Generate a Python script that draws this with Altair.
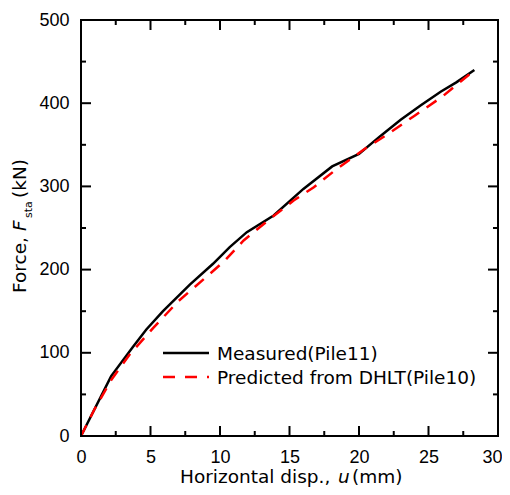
import altair as alt
import pandas as pd

# ---------------- data ----------------
u_meas = [0, 2.17, 3.73, 4.7, 5.9, 7.83, 9.5, 10.7, 11.93, 13.86, 16.0, 18.07, 20.0, 21.57, 23.0, 24.4, 25.9, 27.0, 28.3]
F_meas = [0, 72, 107, 128, 150, 182, 207, 227, 245, 265, 297, 324, 339, 361, 380, 397, 414, 425, 440]

u_pred = [0, 1.0, 2.2, 3.5, 5.2, 7.0, 9.0, 10.3, 11.7, 13.6, 15.3, 16.75, 18.4, 20.4, 22.0, 24.0, 26.0, 28.4]
F_pred = [0, 33, 68, 98, 130, 162, 191, 210, 235, 261, 283, 299, 321, 345, 362, 385, 408, 441]

series = ["Measured(Pile11)", "Predicted from DHLT(Pile10)"]
x_major = [0, 5, 10, 15, 20, 25, 30]
x_minor = [2.5, 7.5, 12.5, 17.5, 22.5, 27.5]
y_major = [0, 100, 200, 300, 400, 500]
y_minor = [50, 150, 250, 350, 450]

W, H = 417, 416
TICKFONT = "Liberation Sans"
FONT = "DejaVu Sans"

df = pd.concat([
    pd.DataFrame({"u": u_meas, "F": F_meas, "s": series[0], "o": range(len(u_meas))}),
    pd.DataFrame({"u": u_pred, "F": F_pred, "s": series[1], "o": range(len(u_pred))}),
])

xs = alt.Scale(domain=[0, 30], nice=False, zero=False)
ys = alt.Scale(domain=[0, 500], nice=False, zero=False)

x_ax = alt.Axis(values=x_major, title=None, ticks=False, tickSize=0, domain=False, grid=False,
                labelFont=TICKFONT, labelFontSize=18, labelColor="black", labelPadding=12,
                labelFlush=False,
                labelAlign=alt.expr("datum.value == 30 ? 'right' : 'center'"),
                labelOffset=alt.expr("datum.value == 30 ? 4 : 0"))
y_ax = alt.Axis(values=y_major, title=None, ticks=False, tickSize=0, domain=False, grid=False,
                labelFont=TICKFONT, labelFontSize=18, labelColor="black", labelPadding=12)

meas = alt.Chart(df[df.s == series[0]]).mark_line(color="black", strokeWidth=2.5).encode(
    x=alt.X("u:Q", scale=xs, axis=x_ax), y=alt.Y("F:Q", scale=ys, axis=y_ax), order="o:Q")
pred = alt.Chart(df[df.s == series[1]]).mark_line(color="#ff0000", strokeWidth=2.5,
                                                  strokeDash=[12, 9]).encode(
    x=alt.X("u:Q", scale=xs), y=alt.Y("F:Q", scale=ys), order="o:Q")

# inward ticks on all four sides
def xticks(vals, length):
    d = pd.DataFrame({"v": vals})
    b = alt.Chart(d).mark_rule(color="black", strokeWidth=2).encode(
        x=alt.X("v:Q", scale=xs), y=alt.value(H), y2=alt.value(H - length))
    t = alt.Chart(d).mark_rule(color="black", strokeWidth=2).encode(
        x=alt.X("v:Q", scale=xs), y=alt.value(0), y2=alt.value(length))
    return [b, t]

def yticks(vals, length):
    d = pd.DataFrame({"v": vals})
    l = alt.Chart(d).mark_rule(color="black", strokeWidth=2).encode(
        y=alt.Y("v:Q", scale=ys), x=alt.value(0), x2=alt.value(length))
    r = alt.Chart(d).mark_rule(color="black", strokeWidth=2).encode(
        y=alt.Y("v:Q", scale=ys), x=alt.value(W), x2=alt.value(W - length))
    return [l, r]

ticks = xticks(x_major, 10) + xticks(x_minor, 5) + yticks(y_major, 10) + yticks(y_minor, 5)

one = alt.Data(values=[{}])

def txt(s, x, y, size=18.5, style="normal", angle=0, align="left"):
    return alt.Chart(one).mark_text(font=FONT, fontSize=size, fontStyle=style, angle=angle,
                                    align=align, baseline="alphabetic", color="black").encode(
        x=alt.value(x), y=alt.value(y), text=alt.value(s))

# x title: Horizontal disp., u (mm)
XT_Y = 463
xt = [
    txt("Horizontal disp.,", 99, XT_Y),
    txt("u", 257, XT_Y, style="italic"),
    txt("(mm)", 271, XT_Y),
]
# y title: Force, F_sta (kN)
yt = [
    txt("Force,", -55, 273, angle=270),
    txt("F", -55, 211, style="italic", angle=270),
    txt("sta", -49, 198, size=11, angle=270),
    txt("(kN)", -55, 178, angle=270),
]

# legend
leg = [
    alt.Chart(one).mark_rule(color="black", strokeWidth=2.5).encode(
        x=alt.value(82), x2=alt.value(128), y=alt.value(333)),
    alt.Chart(one).mark_rule(color="#ff0000", strokeWidth=2.5, strokeDash=[12, 10]).encode(
        x=alt.value(82), x2=alt.value(128), y=alt.value(357)),
    txt(series[0], 136, 340),
    txt(series[1], 136, 364),
]

chart = alt.layer(meas, pred, *ticks, *xt, *yt, *leg).properties(
    width=W, height=H,
    autosize=alt.AutoSizeParams(type="none"),
    padding={"left": 73, "top": 12, "right": 4, "bottom": 51},
    background="white",
).configure_view(stroke="black", strokeWidth=2)

chart.save("out.html", embed_options={"renderer": "svg", "actions": False})
